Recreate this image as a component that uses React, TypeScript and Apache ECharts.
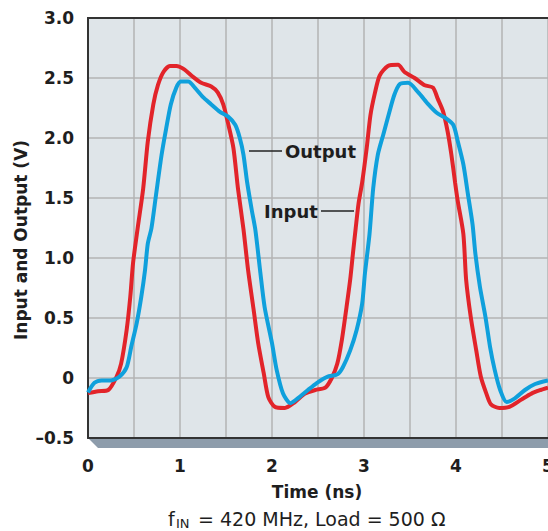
import React, { useEffect, useRef } from "react";
import * as echarts from "echarts";

const inputT = [0, 0.11, 0.22, 0.31, 0.36, 0.42, 0.46, 0.49, 0.54, 0.6, 0.65, 0.71, 0.76, 0.82, 0.89, 0.96, 1.05, 1.14, 1.23, 1.34, 1.41, 1.47, 1.52, 1.58, 1.63, 1.69, 1.74, 1.8, 1.85, 1.91, 1.96, 2.03, 2.14, 2.25, 2.36, 2.47, 2.58, 2.65, 2.71, 2.76, 2.81, 2.85, 2.88, 2.91, 2.94, 2.98, 3.03, 3.07, 3.12, 3.17, 3.26, 3.37, 3.44, 3.55, 3.66, 3.75, 3.8, 3.86, 3.91, 3.95, 3.99, 4.02, 4.08, 4.11, 4.16, 4.22, 4.27, 4.33, 4.38, 4.47, 4.58, 4.71, 4.82, 4.92, 5.0];
const inputV = [-0.125, -0.11, -0.1, 0.01, 0.12, 0.4, 0.68, 0.96, 1.25, 1.58, 1.97, 2.28, 2.44, 2.55, 2.6, 2.6, 2.57, 2.51, 2.46, 2.43, 2.38, 2.28, 2.13, 1.92, 1.58, 1.24, 0.9, 0.57, 0.29, 0.04, -0.16, -0.24, -0.25, -0.2, -0.13, -0.1, -0.08, 0.0, 0.12, 0.32, 0.59, 0.82, 1.04, 1.25, 1.45, 1.63, 1.92, 2.19, 2.38, 2.52, 2.6, 2.61, 2.55, 2.5, 2.44, 2.42, 2.33, 2.22, 2.05, 1.86, 1.63, 1.47, 1.2, 0.82, 0.51, 0.23, 0.01, -0.13, -0.22, -0.25, -0.24, -0.18, -0.13, -0.1, -0.08];

const outputT = [0, 0.07, 0.15, 0.25, 0.34, 0.42, 0.47, 0.53, 0.58, 0.62, 0.65, 0.69, 0.74, 0.8, 0.85, 0.9, 0.96, 1.01, 1.09, 1.16, 1.25, 1.34, 1.43, 1.52, 1.6, 1.65, 1.69, 1.73, 1.78, 1.82, 1.87, 1.92, 2.0, 2.05, 2.12, 2.2, 2.28, 2.39, 2.49, 2.6, 2.71, 2.77, 2.85, 2.92, 2.98, 3.01, 3.06, 3.1, 3.15, 3.21, 3.27, 3.33, 3.39, 3.48, 3.59, 3.7, 3.79, 3.88, 3.97, 4.02, 4.08, 4.13, 4.18, 4.21, 4.26, 4.32, 4.37, 4.42, 4.48, 4.55, 4.64, 4.75, 4.86, 5.0];
const outputV = [-0.12, -0.04, -0.02, -0.02, 0.01, 0.09, 0.26, 0.46, 0.68, 0.9, 1.12, 1.25, 1.53, 1.86, 2.08, 2.28, 2.42, 2.47, 2.47, 2.42, 2.34, 2.28, 2.22, 2.18, 2.11, 2.0, 1.86, 1.63, 1.4, 1.23, 0.9, 0.59, 0.29, 0.07, -0.13, -0.21, -0.17, -0.1, -0.04, 0.01, 0.03, 0.09, 0.23, 0.4, 0.62, 0.87, 1.2, 1.58, 1.86, 2.03, 2.2, 2.36, 2.45, 2.46, 2.38, 2.28, 2.21, 2.17, 2.11, 1.97, 1.78, 1.53, 1.28, 1.04, 0.76, 0.51, 0.26, 0.07, -0.1, -0.2, -0.17, -0.1, -0.05, -0.02];

const xTickLabels = ["0", "1", "2", "3", "4", "5"];
const yTickLabels: Record<string, string> = { "-0.5": "\u20130.5", "0": "0", "0.5": "0.5", "1": "1.0", "1.5": "1.5", "2": "2.0", "2.5": "2.5", "3": "3.0" };

const FONT = "DejaVu Sans";

export default function App() {
  const ref = useRef<HTMLDivElement>(null);
  useEffect(() => {
    if (!ref.current) return;
    const chart = echarts.init(ref.current, undefined, { renderer: "svg" });
    const inputData = inputT.map((t, i) => [t, inputV[i]]);
    const outputData = outputT.map((t, i) => [t, outputV[i]]);
    const labelStyle = { fontFamily: FONT, fontWeight: "bold" as const, fontSize: 17, color: "#1e1e1e" };
    chart.setOption({
      animation: false,
      grid: { left: 88, top: 18, right: 0, bottom: 93, show: true, backgroundColor: "#dfe5e9", borderWidth: 0, containLabel: false, outerBoundsMode: "none" },
      xAxis: {
        type: "value", min: 0, max: 5, interval: 0.5,
        axisLine: { show: true, onZero: false, lineStyle: { color: "#333", width: 2 } },
        axisTick: { show: false },
        splitLine: { show: true, lineStyle: { color: "#b3b3b3", width: 1.5 } },
        axisLabel: {
          ...labelStyle, margin: 19, showMaxLabel: true, showMinLabel: true,
          formatter: (v: number) => (Number.isInteger(v) ? xTickLabels[v] : ""),
        },
      },
      yAxis: {
        type: "value", min: -0.5, max: 3, interval: 0.5,
        axisLine: { show: true, onZero: false, lineStyle: { color: "#333", width: 2 } },
        axisTick: { show: false },
        splitLine: { show: true, lineStyle: { color: "#b3b3b3", width: 1.5 } },
        axisLabel: { ...labelStyle, margin: 14, formatter: (v: number) => yTickLabels[String(v)] ?? String(v) },
      },
      series: [
        { type: "line", name: "Input", data: inputData, showSymbol: false, smooth: 0.25, lineStyle: { color: "#e2242a", width: 4 }, z: 3 },
        { type: "line", name: "Output", data: outputData, showSymbol: false, smooth: 0.25, lineStyle: { color: "#0fa0dc", width: 4 }, z: 4 },
      ],
      graphic: [
        { type: "polygon", z: -1, shape: { points: [[88, 438], [98, 448], [548, 448], [548, 438]] }, style: { fill: "#8d9cab" } },
        { type: "line", z: 10, shape: { x1: 87, y1: 18, x2: 548, y2: 18 }, style: { stroke: "#333", lineWidth: 2 } },
        { type: "line", z: 10, shape: { x1: 249, y1: 151, x2: 282, y2: 151 }, style: { stroke: "#222", lineWidth: 1.5 } },
        { type: "text", z: 10, x: 285, y: 151, style: { text: "Output", font: `bold 18px '${FONT}'`, fill: "#1e1e1e", align: "left", verticalAlign: "middle" } },
        { type: "line", z: 10, shape: { x1: 321, y1: 211, x2: 354, y2: 211 }, style: { stroke: "#222", lineWidth: 1.5 } },
        { type: "text", z: 10, x: 264, y: 211, style: { text: "Input", font: `bold 18px '${FONT}'`, fill: "#1e1e1e", align: "left", verticalAlign: "middle" } },
        { type: "text", x: 317, y: 492, style: { text: "Time (ns)", font: `bold 17px '${FONT}'`, fill: "#1e1e1e", align: "center", verticalAlign: "middle" } },
        { type: "text", x: 21, y: 240, rotation: Math.PI / 2, style: { text: "Input and Output (V)", font: `bold 17px '${FONT}'`, fill: "#1e1e1e", align: "center", verticalAlign: "middle" } },
        { type: "text", x: 168, y: 519, style: { text: "f", font: `19px '${FONT}'`, fill: "#1e1e1e", align: "left", verticalAlign: "middle" } },
        { type: "text", x: 176, y: 523, style: { text: "IN", font: `13px '${FONT}'`, fill: "#1e1e1e", align: "left", verticalAlign: "middle" } },
        { type: "text", x: 192, y: 519, style: { text: " = 420 MHz, Load = 500 \u03A9", font: `19px '${FONT}'`, fill: "#1e1e1e", align: "left", verticalAlign: "middle" } },
      ],
    });
    return () => chart.dispose();
  }, []);
  return <div ref={ref} style={{ position: "absolute", left: 0, top: 0, width: 548, height: 531 }} />;
}
